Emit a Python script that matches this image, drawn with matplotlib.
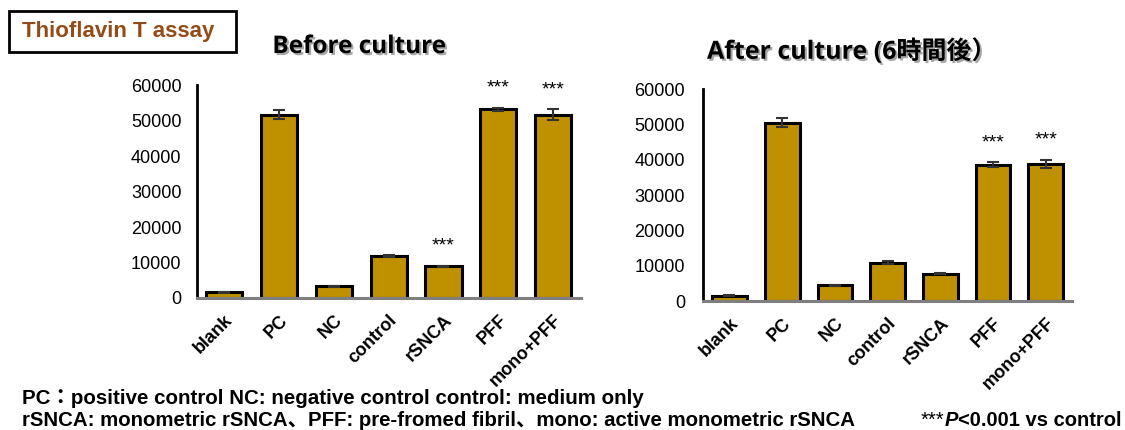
import matplotlib
matplotlib.use("Agg")
import matplotlib.pyplot as plt
import matplotlib.patheffects as pe
from matplotlib.patches import Rectangle

categories = ["blank", "PC", "NC", "control", "rSNCA", "PFF", "mono+PFF"]

before_vals = [1600, 51700, 3300, 11800, 8900, 53200, 51700]
before_err = [150, 1200, 200, 300, 150, 400, 1500]
before_sig = [False, False, False, False, True, True, True]

after_vals = [1500, 50500, 4400, 10800, 7700, 38600, 38800]
after_err = [150, 1300, 200, 400, 150, 700, 1200]
after_sig = [False, False, False, False, False, True, True]

yticks = [0, 10000, 20000, 30000, 40000, 50000, 60000]

bar_color = "#BF9000"
jp = ["Liberation Sans", "Noto Sans CJK JP"]

fig = plt.figure(figsize=(11.25, 4.3), dpi=100)


def draw_panel(ax, vals, errs, sig, pad):
    x = list(range(len(categories)))
    ax.bar(x, vals, width=0.66, color=bar_color, edgecolor="black", linewidth=2.2, zorder=2)
    ax.errorbar(x, vals, yerr=errs, fmt="none", ecolor="#333333", elinewidth=1.5,
                capsize=4, capthick=1.5, zorder=3)
    for i in x:
        if sig[i]:
            ax.annotate("***", (i, vals[i] + errs[i]), xytext=(0, 8), textcoords="offset points",
                        ha="center", va="bottom", fontsize=14, family="Liberation Sans")
    ax.set_xlim(-0.5, 6.5)
    ax.set_ylim(0, 60000)
    ax.set_yticks(yticks)
    ax.set_yticklabels([str(t) for t in yticks], family="Liberation Sans", fontsize=13)
    ax.set_xticks(x)
    ax.set_xticklabels(categories, rotation=45, ha="right", rotation_mode="anchor",
                       family="Liberation Sans", fontweight="bold", fontsize=13)
    ax.tick_params(axis="y", length=0, pad=pad)
    ax.tick_params(axis="x", length=0, pad=10)
    for s in ["top", "right"]:
        ax.spines[s].set_visible(False)
    ax.spines["left"].set_linewidth(2)
    ax.spines["left"].set_color("black")
    ax.spines["bottom"].set_linewidth(2.2)
    ax.spines["bottom"].set_color("#7f7f7f")


ax1 = fig.add_axes([0.175, 0.307, 0.341, 0.495])
draw_panel(ax1, before_vals, before_err, before_sig, 11)

ax2 = fig.add_axes([0.625, 0.300, 0.328, 0.493])
draw_panel(ax2, after_vals, after_err, after_sig, 13)

shadow = [pe.SimplePatchShadow(offset=(1.5, -1.5), alpha=0.35), pe.Normal()]
fig.text(359 / 1125, 1 - 47 / 430, "Before culture", ha="center", va="center",
         family="Open Sans", fontweight="bold", fontsize=17.5, path_effects=shadow)
fig.text(707 / 1125, 1 - 52 / 430, "After culture (6時間後）", ha="left", va="center",
         family=["Open Sans", "Noto Sans CJK JP"], fontweight="bold", fontsize=18,
         path_effects=shadow)

# boxed label
fig.patches.append(Rectangle((9 / 1125, 1 - 52 / 430), 227 / 1125, 41 / 430,
                             transform=fig.transFigure, fill=False, edgecolor="black",
                             linewidth=2))
fig.text(22 / 1125, 1 - 32 / 430, "Thioflavin T assay", ha="left", va="center",
         family="Liberation Sans", fontweight="bold", fontsize=16, color="#944B17")

fig.text(22 / 1125, 1 - 398 / 430, "PC：positive control NC: negative control control: medium only",
         ha="left", va="center", family=jp, fontweight="bold", fontsize=14.8)
fig.text(22 / 1125, 1 - 420 / 430,
         "rSNCA: monometric rSNCA、PFF: pre-fromed fibril、mono: active monometric rSNCA",
         ha="left", va="center", family=jp, fontweight="bold", fontsize=14.7)

# p-value note with italic P
renderer = fig.canvas.get_renderer()
t1 = fig.text(921 / 1125, 1 - 420 / 430, "***", ha="left", va="center",
              family="Liberation Sans", fontsize=14.5)
bb = t1.get_window_extent(renderer)
t2 = fig.text(bb.x1 / fig.bbox.width, 1 - 420 / 430, "P", ha="left", va="center",
              family="Liberation Sans", fontweight="bold", style="italic", fontsize=14.5)
bb = t2.get_window_extent(renderer)
fig.text(bb.x1 / fig.bbox.width, 1 - 420 / 430, "<0.001 vs control", ha="left", va="center",
         family="Liberation Sans", fontweight="bold", fontsize=14.5)

fig.savefig("out.png", dpi=100)
